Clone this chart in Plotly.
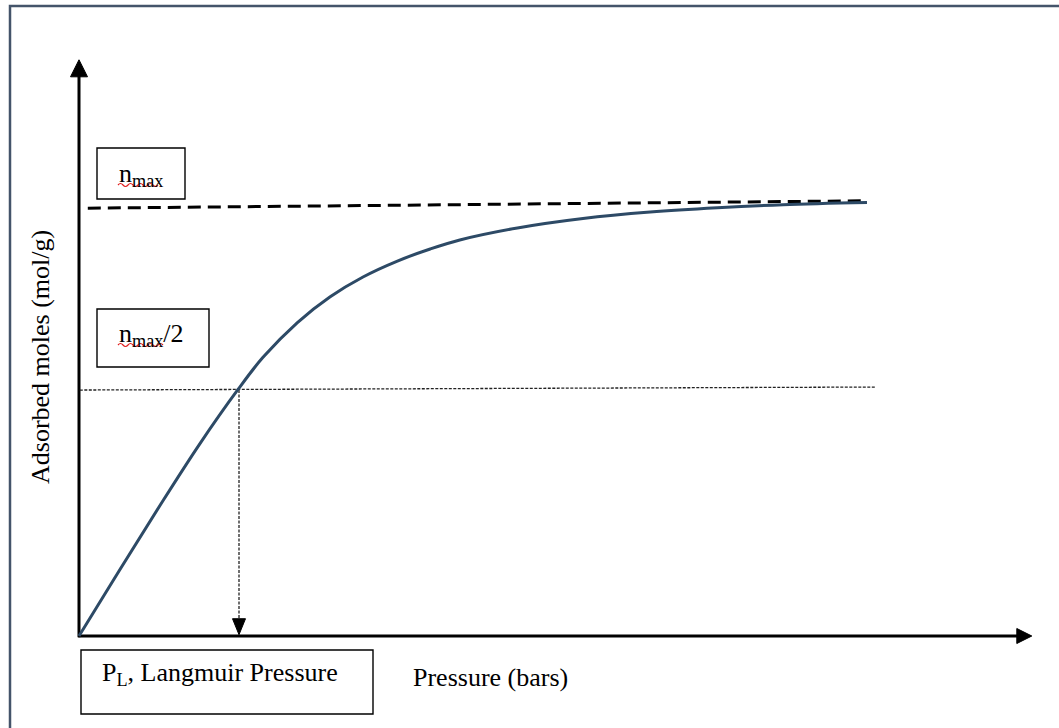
import plotly.graph_objects as go

# Langmuir-type adsorption isotherm (schematic)
pressure = [0.0, 0.51, 1.01, 1.51, 1.99, 2.3, 2.73, 3.14, 3.55, 3.98, 4.39, 4.76,
            5.48, 6.3, 7.14, 7.98, 8.8, 9.85]
adsorbed = [0.0, 0.154, 0.303, 0.447, 0.574, 0.648, 0.729, 0.789, 0.835, 0.872,
            0.900, 0.921, 0.949, 0.971, 0.986, 0.996, 1.003, 1.008]

# saturation level n_max (dashed) and half-saturation level (dotted)
nmax_p = [0.11, 9.79]
nmax_n = [0.995, 1.012]
half_p = [0.01, 9.95]
half_n = [0.572, 0.579]
langmuir_p = 2.0
langmuir_n = 0.572

# axis extents (arrow tips)
x_axis_end = 11.91
y_axis_end = 1.34

W, H = 1059, 728
SX, SY = 80.0, 430.0        # px per unit
OX, OY = 79.0, 636.0        # pixel position of the origin

FONT = "Liberation Serif, Times New Roman, serif"
CURVE = "#2d4a66"
BORDER = "#44546a"


def px(x):
    return x / W


def py(y):
    return 1 - y / H


def tri(tip_x, tip_y, dx, dy, length_px, half_px):
    """Filled arrowhead triangle pointing along (dx, dy) in data space."""
    if dx:
        bx = tip_x - dx * length_px / SX
        xs = [tip_x, bx, bx, tip_x]
        ys = [tip_y, tip_y + half_px / SY, tip_y - half_px / SY, tip_y]
    else:
        by = tip_y - dy * length_px / SY
        xs = [tip_x, tip_x - half_px / SX, tip_x + half_px / SX, tip_x]
        ys = [tip_y, by, by, tip_y]
    return go.Scatter(x=xs, y=ys, mode="lines", fill="toself", fillcolor="black",
                      line=dict(color="black", width=1), hoverinfo="skip",
                      showlegend=False)


fig = go.Figure()

# axes with arrowheads
fig.add_trace(go.Scatter(x=[0, 0], y=[-0.003, y_axis_end - 16 / SY], mode="lines",
                         line=dict(color="black", width=3), showlegend=False))
fig.add_trace(go.Scatter(x=[-0.01, x_axis_end - 14 / SX], y=[0, 0], mode="lines",
                         line=dict(color="black", width=3), showlegend=False))
fig.add_trace(tri(0, y_axis_end, 0, 1, 17, 8.5))
fig.add_trace(tri(x_axis_end, 0, 1, 0, 15, 7.5))

# n_max dashed line
fig.add_trace(go.Scatter(x=nmax_p, y=nmax_n, mode="lines",
                         line=dict(color="black", width=3, dash="13px,7px"),
                         showlegend=False))
# half-saturation dotted line
fig.add_trace(go.Scatter(x=half_p, y=half_n, mode="lines",
                         line=dict(color="#222222", width=1.3, dash="3px,1.5px"),
                         showlegend=False))
# drop line to the Langmuir pressure
fig.add_trace(go.Scatter(x=[langmuir_p, langmuir_p], y=[langmuir_n, 15 / SY],
                         mode="lines",
                         line=dict(color="#222222", width=1.3, dash="3px,1.5px"),
                         showlegend=False))
fig.add_trace(tri(langmuir_p, 0.003, 0, -1, 16, 6.5))

# isotherm curve
fig.add_trace(go.Scatter(x=pressure, y=adsorbed, mode="lines",
                         line=dict(color=CURVE, width=3, shape="spline", smoothing=1.0),
                         showlegend=False))

shapes = [
    # outer frame
    dict(type="rect", xref="paper", yref="paper", x0=px(10), x1=px(1064),
         y0=py(735), y1=py(6), line=dict(color=BORDER, width=2.5)),
    # label boxes
    dict(type="rect", xref="paper", yref="paper", x0=px(97), x1=px(185),
         y0=py(199), y1=py(148), line=dict(color="black", width=1.4)),
    dict(type="rect", xref="paper", yref="paper", x0=px(97), x1=px(209),
         y0=py(367), y1=py(309), line=dict(color="black", width=1.4)),
    dict(type="rect", xref="paper", yref="paper", x0=px(81), x1=px(373),
         y0=py(714), y1=py(650), line=dict(color="black", width=1.4)),
]


def squiggle(x0, x1, y):
    step = 5.0
    d = f"M{px(x0)},{py(y)}"
    x = x0
    up = True
    while x + step <= x1 + 0.1:
        cy = y - 3 if up else y + 3
        d += f" Q{px(x + step / 2)},{py(cy)} {px(x + step)},{py(y)}"
        x += step
        up = not up
    return dict(type="path", xref="paper", yref="paper", path=d,
                line=dict(color="#e02020", width=1.2))


shapes.append(squiggle(118, 160, 185))
shapes.append(squiggle(118, 163, 345))

annotations = [
    dict(text="n<sub>max</sub>", x=px(117), y=py(175), xanchor="left", yanchor="middle"),
    dict(text="n<sub>max</sub>/2", x=px(117), y=py(335), xanchor="left", yanchor="middle"),
    dict(text="P<sub>L</sub>, Langmuir Pressure", x=px(100), y=py(674),
         xanchor="left", yanchor="middle"),
    dict(text="Pressure (bars)", x=px(490), y=py(677), xanchor="center", yanchor="middle"),
    dict(text="Adsorbed moles (mol/g)", x=px(40), y=py(357), xanchor="center",
         yanchor="middle", textangle=-90),
]
for a in annotations:
    a.update(xref="paper", yref="paper", showarrow=False,
             font=dict(family=FONT, size=26, color="black"))

fig.update_layout(
    width=W, height=H,
    margin=dict(l=0, r=0, t=0, b=0),
    paper_bgcolor="white", plot_bgcolor="white",
    xaxis=dict(range=[-OX / SX, (W - OX) / SX], visible=False, fixedrange=True),
    yaxis=dict(range=[(OY - H) / SY, OY / SY], visible=False, fixedrange=True),
    shapes=shapes, annotations=annotations, showlegend=False,
)

fig.write_html("out.html")
